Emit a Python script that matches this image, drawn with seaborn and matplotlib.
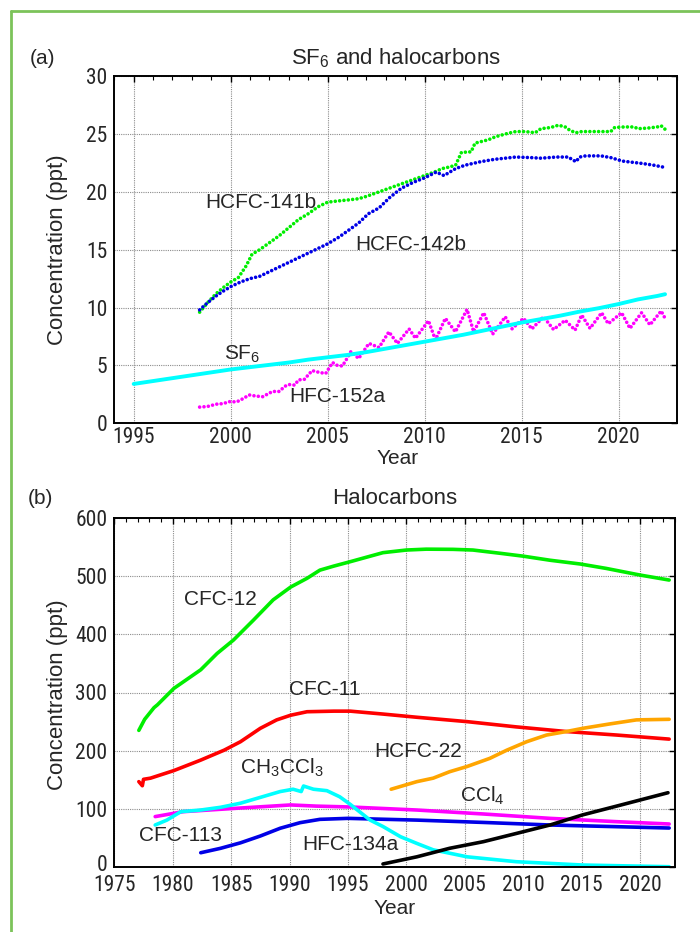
import numpy as np
import pandas as pd
import matplotlib
matplotlib.use("Agg")
import matplotlib.pyplot as plt
from matplotlib import font_manager as fm
from matplotlib.lines import Line2D
from matplotlib.ticker import MultipleLocator, FixedLocator
from matplotlib.transforms import ScaledTranslation
import seaborn as sns

# ---------------- panel (a): SF6 and halocarbons ----------------
hcfc141b_year = [1998.4, 1998.8, 1999.25, 1999.6, 2000.0, 2000.4, 2000.8, 2001.1, 2001.5, 2002.0,
                 2002.5, 2003.0, 2003.5, 2004.0, 2004.5, 2005.0, 2005.5, 2006.1, 2006.6, 2007.0,
                 2007.5, 2008.0, 2008.5, 2009.0, 2009.5, 2010.0, 2010.5, 2010.9, 2011.3, 2011.6,
                 2011.9, 2012.4, 2012.6, 2013.3, 2013.65, 2014.3, 2014.7, 2015.2, 2015.7, 2016.0,
                 2016.5, 2016.9, 2017.25, 2017.5, 2017.8, 2018.1, 2018.6, 2019.1, 2019.6, 2019.8,
                 2020.3, 2020.8, 2021.0, 2021.5, 2022.0, 2022.2, 2022.4]
hcfc141b_ppt = [9.6, 10.4, 11.2, 11.7, 12.2, 12.6, 13.6, 14.6, 15.0, 15.6,
                16.2, 16.9, 17.6, 18.1, 18.7, 19.1, 19.2, 19.3, 19.4, 19.6,
                19.9, 20.2, 20.5, 20.8, 21.1, 21.4, 21.7, 22.0, 22.15, 22.3,
                23.4, 23.45, 24.2, 24.5, 24.75, 25.05, 25.2, 25.2, 25.1, 25.45,
                25.55, 25.75, 25.6, 25.3, 25.1, 25.2, 25.2, 25.2, 25.2, 25.55,
                25.6, 25.6, 25.45, 25.5, 25.6, 25.7, 25.4]

hcfc142b_year = [1998.4, 1998.8, 1999.25, 1999.6, 2000.0, 2000.5, 2001.0, 2001.5, 2002.0, 2002.5,
                 2003.0, 2003.5, 2004.0, 2004.5, 2005.0, 2005.6, 2006.1, 2006.6, 2007.1, 2007.65,
                 2008.2, 2008.8, 2009.4, 2010.0, 2010.6, 2011.0, 2011.6, 2012.1, 2012.9, 2013.6,
                 2014.7, 2015.5, 2016.0, 2016.8, 2017.4, 2017.8, 2018.0, 2018.3, 2019.1, 2019.6,
                 2020.2, 2020.7, 2021.2, 2021.8, 2022.4]
hcfc142b_ppt = [9.8, 10.4, 11.0, 11.4, 11.8, 12.2, 12.5, 12.7, 13.1, 13.5,
                13.9, 14.3, 14.7, 15.1, 15.5, 16.1, 16.7, 17.3, 18.1, 18.6,
                19.5, 20.3, 20.8, 21.2, 21.7, 21.4, 22.0, 22.3, 22.6, 22.8,
                23.0, 22.95, 22.9, 23.0, 23.0, 22.6, 23.0, 23.1, 23.1, 22.95,
                22.65, 22.55, 22.45, 22.3, 22.1]

sf6_year = [1995, 1996, 1997, 1998, 1999, 2000, 2001, 2002, 2003, 2004, 2005, 2006, 2007, 2008,
            2009, 2010, 2011, 2012, 2013, 2014, 2015, 2016, 2017, 2018, 2019, 2020, 2021, 2022,
            2022.4]
sf6_ppt = [3.4, 3.65, 3.9, 4.15, 4.4, 4.65, 4.85, 5.05, 5.25, 5.5, 5.7, 5.9, 6.15, 6.45,
           6.75, 7.05, 7.35, 7.65, 8.0, 8.35, 8.7, 9.0, 9.3, 9.65, 9.95, 10.3, 10.7, 11.0,
           11.15]

hfc152a_year = [1998.4, 1998.8, 1999.25, 1999.6, 1999.95, 2000.3, 2000.5, 2000.96, 2001.3, 2001.65,
                2002.16, 2002.5, 2002.8, 2003.0, 2003.3, 2003.5, 2003.8, 2004.2, 2004.56, 2004.9,
                2005.25, 2005.5, 2005.76, 2006.0, 2006.2, 2006.6, 2007.13, 2007.65, 2008.16, 2008.6,
                2009.2, 2009.53, 2010.2, 2010.56, 2011.07, 2011.59, 2012.19, 2012.53, 2013.05, 2013.51,
                2014.16, 2014.5, 2015.1, 2015.53, 2016.13, 2016.65, 2017.25, 2017.76, 2018.1, 2018.53,
                2019.13, 2019.47, 2020.16, 2020.59, 2021.19, 2021.62, 2022.2, 2022.4]
hfc152a_ppt = [1.4, 1.45, 1.65, 1.7, 1.87, 1.85, 2.0, 2.45, 2.35, 2.3,
               2.75, 2.75, 3.2, 3.35, 3.3, 3.75, 3.8, 4.55, 4.4, 4.3,
               5.25, 5.0, 4.95, 5.6, 6.2, 5.6, 6.9, 6.55, 7.9, 6.9,
               8.15, 7.35, 8.86, 7.2, 9.07, 7.9, 9.84, 7.9, 9.55, 7.7,
               9.2, 8.15, 9.07, 8.15, 9.2, 8.1, 8.9, 8.05, 9.35, 8.2,
               9.55, 8.6, 9.55, 8.2, 9.55, 8.5, 9.7, 9.07]

# ---------------- panel (b): halocarbons ----------------
cfc12_year = [1977.1, 1977.6, 1978.0, 1978.4, 1978.7, 1980.1, 1982.4, 1983.8, 1985.2,
              1986.9, 1988.6, 1990.1, 1991.5, 1992.6, 1993.8, 1995.2, 1998.0, 2000.0, 2001.7,
              2004.0, 2005.7, 2008.0, 2010.0, 2012.3, 2014.9, 2017.1, 2020.0, 2022.5]
cfc12_ppt = [235, 254, 264, 274, 279, 307, 339, 367, 390,
             424, 459, 481, 496, 510, 517, 524.5, 540, 544.5, 546,
             545.7, 544.5, 539, 534, 527, 520.5, 513, 501.6, 493]

cfc11_year = [1977.1, 1977.4, 1977.5, 1978.1, 1980.1, 1982.4, 1984.4, 1985.8, 1987.5, 1988.9,
              1990.1, 1991.5, 1993.8, 1995.2, 1998.0, 2000.9, 2005.2, 2009.4, 2013.7, 2018.0,
              2022.5]
cfc11_ppt = [147, 140, 151, 153, 166, 184, 201, 215.5, 238.5, 253,
             261, 267, 268, 268, 263, 257.5, 250, 241, 233, 227,
             220]

hcfc22_year = [1998.7, 2000.9, 2002.3, 2003.7, 2005.2, 2007.15, 2008.6, 2010.3, 2012.0, 2013.7,
               2015.1, 2017.4, 2019.7, 2022.5]
hcfc22_ppt = [134, 147, 153, 164, 173, 187, 201, 215.5, 227, 233,
              238.5, 246, 253, 254]

black_year = [1998.0, 2000.9, 2003.7, 2006.6, 2009.4, 2012.3, 2015.1, 2018.0, 2022.4]
black_ppt = [5.7, 18, 32.6, 44, 58, 72.6, 90, 105, 128]

magenta_year = [1978.5, 1980.9, 1985.2, 1990.1, 1992.3, 1995.2, 2000.9, 2006.6, 2012.3, 2018.0, 2022.5]
magenta_ppt = [87, 95.5, 101, 107, 105, 103.5, 98.3, 91.5, 84, 78.3, 74.3]

blue_year = [1982.4, 1984.1, 1985.8, 1987.5, 1989.2, 1990.9, 1992.6, 1995.0, 2000.9, 2006.6,
             2012.3, 2018.0, 2022.5]
blue_ppt = [25, 32.6, 42, 53.7, 67, 76.6, 82.3, 84, 81, 77,
            72.6, 69.7, 67.4]

ch3ccl3_year = [1978.5, 1979.5, 1980.7, 1982.4, 1984.1, 1985.8, 1987.5, 1989.2, 1990.3, 1991.0,
                1991.2, 1992.05, 1993.2, 1994.3, 1995.2, 1996.9, 1998.0, 1999.5, 2000.9, 2002.3,
                2005.2, 2009.4, 2015.1, 2022.5]
ch3ccl3_ppt = [72.6, 81, 95.5, 98.3, 103, 110, 120, 130, 134, 130,
               139.5, 134, 131.5, 121, 108, 81, 70, 52.5, 41, 30,
               18, 9.6, 3.9, 1]

b_yticks = [0, 100, 200, 300, 400, 500, 600]

# ---------------- style ----------------
sns.set_theme(style="white")
plt.rcParams["font.family"] = ["Liberation Sans", "DejaVu Sans"]
plt.rcParams["mathtext.fontset"] = "custom"
plt.rcParams["mathtext.rm"] = "Liberation Sans"
plt.rcParams["mathtext.default"] = "regular"


def find_narrow_font():
    # the tick numbers in the reference use a condensed face
    fonts = fm.fontManager.ttflist
    prefs = ["Liberation Sans Narrow", "Roboto Condensed", "Open Sans Condensed",
             "Noto Sans Condensed", "DejaVu Sans Condensed"]
    for p in prefs:
        for f in fonts:
            if f.name == p and f.style == "normal" and f.weight in (400, "normal", "regular"):
                return fm.FontProperties(fname=f.fname, size=15.5)
    for f in fonts:
        if (f.stretch in ("condensed", "semi-condensed") or "Narrow" in f.name
                or "Condensed" in f.name) and f.style == "normal" \
                and f.weight in (400, "normal", "regular") and "Mono" not in f.name:
            return fm.FontProperties(fname=f.fname, size=15.5)
    return fm.FontProperties(family="Liberation Sans", size=12.5)


tick_font = find_narrow_font()

W, H = 700, 932
fig = plt.figure(figsize=(W / 100, H / 100), dpi=100)


def fx(x):
    return x / W


def fy(y):
    return 1 - y / H


def style_axes(ax, xmaj, yloc, xlim, ylim, xpad):
    ax.set_xlim(*xlim)
    ax.set_ylim(*ylim)
    ax.xaxis.set_major_locator(MultipleLocator(xmaj))
    ax.xaxis.set_minor_locator(MultipleLocator(1))
    ax.yaxis.set_major_locator(yloc)
    ax.grid(True, which="major", color="#8c8c8c", linestyle=(0, (1, 1)), linewidth=0.8)
    ax.tick_params(which="both", direction="in", top=True, right=True, color="black")
    ax.tick_params(which="major", length=4, width=1)
    ax.tick_params(which="minor", length=3, width=0.8)
    ax.tick_params(axis="x", pad=xpad)
    ax.tick_params(axis="y", pad=5)
    for lab in ax.get_xticklabels() + ax.get_yticklabels():
        lab.set_fontproperties(tick_font)
    for s in ax.spines.values():
        s.set_color("black")
        s.set_linewidth(1.4)
    ax.set_xlabel("")
    ax.set_ylabel("")


dots = dict(linestyle=(0, (0.01, 1.2)), dash_capstyle="round", linewidth=2.6)

# panel (a)
ax1 = fig.add_axes([fx(114.3), fy(423.3), (676.7 - 114.3) / W, (423.3 - 76) / H])
sns.lineplot(x=hfc152a_year, y=hfc152a_ppt, color="#ff00ff", ax=ax1, **dots)
sns.lineplot(x=sf6_year, y=sf6_ppt, color="#00ffff", linewidth=2.8, ax=ax1)
sns.lineplot(x=hcfc141b_year, y=hcfc141b_ppt, color="#00ee00", ax=ax1, **dots)
sns.lineplot(x=hcfc142b_year, y=hcfc142b_ppt, color="#0000e6", ax=ax1, **dots)
style_axes(ax1, 5, MultipleLocator(5), (1994, 2023), (0, 30), 2.5)

ax1.text(2001.57, 19.08, "HCFC-141b", ha="center", va="center", fontsize=15)
ax1.text(2009.28, 15.48, "HCFC-142b", ha="center", va="center", fontsize=15)
ax1.text(1999.68, 5.47, "SF$_6$", ha="left", va="baseline", fontsize=15)
ax1.text(2005.5, 2.3, "HFC-152a", ha="center", va="center", fontsize=15)

fig.text(fx(30), fy(58), "(a)", ha="left", va="center", fontsize=15)
fig.text(fx(395.5), fy(58), "SF$_6$ and halocarbons", ha="center", va="center", fontsize=16)
fig.text(fx(398), fy(458), "Year", ha="center", va="center", fontsize=15)
fig.text(fx(58), fy(250), "Concentration (ppt)", ha="center", va="center",
         rotation=90, fontsize=16)

# panel (b)
ax2 = fig.add_axes([fx(114.3), fy(867.3), (675 - 114.3) / W, (867.3 - 517.7) / H])
lw = 2.6
sns.lineplot(x=magenta_year, y=magenta_ppt, color="#ff00ff", linewidth=lw, ax=ax2)
sns.lineplot(x=blue_year, y=blue_ppt, color="#0000e6", linewidth=lw, ax=ax2)
sns.lineplot(x=ch3ccl3_year, y=ch3ccl3_ppt, color="#00ffff", linewidth=lw, ax=ax2)
sns.lineplot(x=cfc11_year, y=cfc11_ppt, color="#ff0000", linewidth=lw, ax=ax2)
sns.lineplot(x=cfc12_year, y=cfc12_ppt, color="#00ee00", linewidth=lw, ax=ax2)
sns.lineplot(x=hcfc22_year, y=hcfc22_ppt, color="#ffa500", linewidth=lw, ax=ax2)
sns.lineplot(x=black_year, y=black_ppt, color="black", linewidth=lw, ax=ax2)
style_axes(ax2, 5, FixedLocator(b_yticks), (1975, 2023), (0, 600), 5.5)

# in the reference the "0" sits a little above the corner, clear of "1975"
fig.canvas.draw()
for tick in ax2.yaxis.get_major_ticks():
    if tick.get_loc() == 0:
        lab = tick.label1
        lab.set_transform(lab.get_transform() + ScaledTranslation(0, 4 / 100, fig.dpi_scale_trans))

ax2.text(1984.08, 459.9, "CFC-12", ha="center", va="center", fontsize=15)
ax2.text(1993.0, 304.3, "CFC-11", ha="center", va="center", fontsize=15)
ax2.text(1985.78, 161.3, "CH$_3$CCl$_3$", ha="left", va="baseline", fontsize=15)
ax2.text(1980.66, 55.4, "CFC-113", ha="center", va="center", fontsize=15)
ax2.text(1995.19, 38.6, "HFC-134a", ha="center", va="center", fontsize=15)
ax2.text(2001.03, 199, "HCFC-22", ha="center", va="center", fontsize=15)
ax2.text(2004.59, 112.6, "CCl$_4$", ha="left", va="baseline", fontsize=15)

fig.text(fx(28), fy(498), "(b)", ha="left", va="center", fontsize=15)
fig.text(fx(395), fy(498), "Halocarbons", ha="center", va="center", fontsize=16)
fig.text(fx(395), fy(908), "Year", ha="center", va="center", fontsize=15)
fig.text(fx(58), fy(695), "Concentration (ppt)", ha="center", va="center",
         rotation=90, fontsize=16)

# green frame (left and top edges visible)
frame = "#7cc35a"
fig.add_artist(Line2D([fx(11), fx(11)], [0, fy(11)], color=frame, linewidth=2))
fig.add_artist(Line2D([fx(11), 1], [fy(11), fy(11)], color=frame, linewidth=2))

fig.savefig("out.png", dpi=100)
